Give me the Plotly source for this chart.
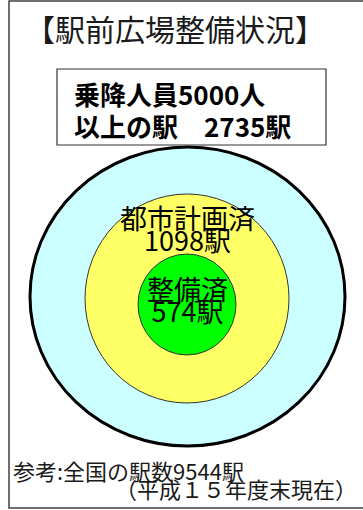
import plotly.graph_objects as go

# 図の中身
title = "【駅前広場整備状況】"
box_lines = ["乗降人員5000人", "以上の駅　2735駅"]
ring_labels = ["都市計画済", "整備済"]
ring_counts = [1098, 574]
note_lines = ["参考:全国の駅数9544駅", "（平成１５年度末現在）"]

W, H = 363, 510
JP = "Noto Sans CJK JP"

fig = go.Figure()

# frame (right side runs off the picture)
fig.add_shape(type="rect", x0=9, x1=380, y0=1, y1=508,
              line=dict(color="#404040", width=1.5), fillcolor="rgba(0,0,0,0)")

# circles: outer -> inner
fig.add_shape(type="circle", x0=30, x1=345, y0=147, y1=446,
              line=dict(color="black", width=3), fillcolor="#CCFFFF")
fig.add_shape(type="circle", x0=85, x1=289, y0=194, y1=403,
              line=dict(color="#333333", width=1), fillcolor="#FFFF66")
fig.add_shape(type="circle", x0=138, x1=236, y0=254, y1=355,
              line=dict(color="#333333", width=1), fillcolor="#00FF00")

# box with the 5000-passenger station count
fig.add_shape(type="rect", x0=57, x1=326, y0=69, y1=145,
              line=dict(color="#333333", width=1.2), fillcolor="white")

fig.add_annotation(x=23, y=28, text=title, xanchor="left", yanchor="middle",
                   showarrow=False, font=dict(family=JP, size=30, color="#1a1a1a"))
for i, line in enumerate(box_lines):
    fig.add_annotation(x=72, y=93 + i * 32, text=f"<b>{line}</b>", xanchor="left", yanchor="middle",
                       showarrow=False, font=dict(family=JP, size=26, color="black"))

# small base font keeps the two lines close; the span sets the glyph size
label_y = [228, 299]
for lab, cnt, y in zip(ring_labels, ring_counts, label_y):
    txt = f"<span style='font-size:27px'>{lab}</span><br><span style='font-size:27px'>{cnt}駅</span>"
    fig.add_annotation(x=187, y=y, text=txt, xanchor="center", yanchor="middle",
                       showarrow=False, font=dict(family=JP, size=17, color="black"))

fig.add_annotation(x=11, y=470, text=note_lines[0], xanchor="left", yanchor="middle",
                   showarrow=False, font=dict(family=JP, size=22, color="#1a1a1a"))
fig.add_annotation(x=359, y=488, text=note_lines[1], xanchor="right", yanchor="middle",
                   showarrow=False, font=dict(family=JP, size=22, color="#1a1a1a"))

fig.update_xaxes(range=[0, W], visible=False, fixedrange=True)
fig.update_yaxes(range=[H, 0], visible=False, fixedrange=True)
fig.update_layout(width=W, height=H, margin=dict(l=0, r=0, t=0, b=0),
                  paper_bgcolor="white", plot_bgcolor="white", showlegend=False)

# the page's body has an 8px margin by default; drop it so the figure sits at 0,0
fig.write_html("out.html", config={"displayModeBar": False},
               post_script="document.body.style.margin='0';")
